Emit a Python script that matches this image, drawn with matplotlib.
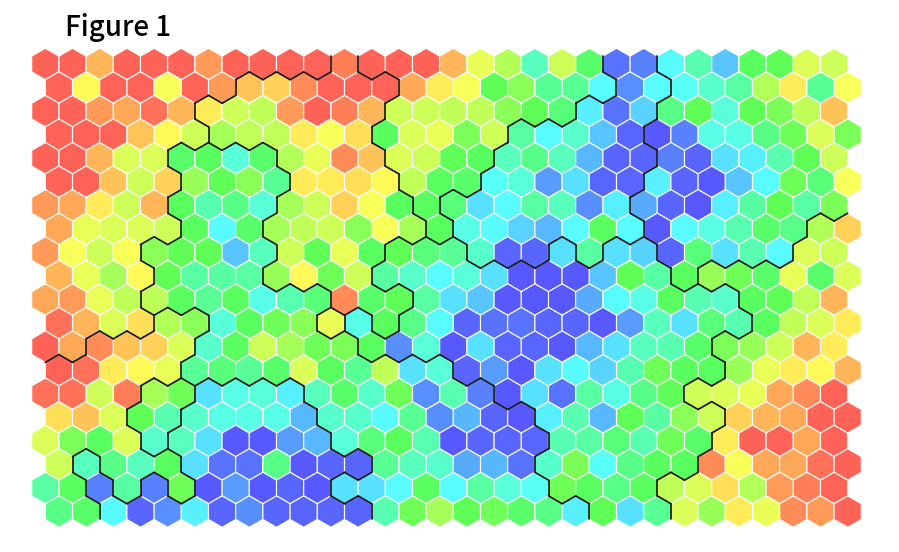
import colorsys
import numpy as np
import matplotlib
matplotlib.use("Agg")
import matplotlib.pyplot as plt
from matplotlib.collections import PolyCollection, LineCollection
from matplotlib.colors import ListedColormap, Normalize

title = "Figure 1"

# node values on a 0 (high / red) .. 24 (low / blue) scale
row00 = [0,0,3,0,0,0,2,0,0,0,0,1,0,0,0,3,6.5,8.5,15.5,7.5,12.5,23,22.5,18,15,20,12,11.5,7,7.5]
row01 = [0,5.5,0,0,6,0,2,3.5,4,1.5,0,0,0,2.5,5,6,11.5,10,14,14,18,22,18,17.5,16,14.5,8.5,5,14,6]
row02 = [0,0,2,2.5,0.5,3,5,7.5,8,2,0,1,3,7.5,7.5,8,8,10,11.5,13,18.5,23,19.5,13.5,11.5,16.5,11.5,10.5,8,3.5]
row03 = [0,0,0,3.5,5.5,7.5,9,8,8,5,6,4.5,12,7,6.5,10.5,7.5,14.5,18,16,20,23.5,24,22.5,17,17,13.5,11,7,10.5]
row04 = [0,0,3,7,7,12.5,12,16.5,12.5,8.5,6.5,1.5,3.5,7,7.5,11.5,12,15.5,13.5,15.5,20.5,23.5,23.5,22.5,23.5,19,18.5,15,11.5,7.5]
row05 = [0,0,3.5,7.5,4,9.5,11.5,10,14,5,5,4.5,5.5,8,12,12.5,17.5,16.5,21.5,19,23.5,23.5,18.5,23.5,24,20,18,11,13,6]
row06 = [2,2.5,5,7.5,3,12,15,13.5,16.5,9,7.5,4,6,12,12,13,19,18,14.5,15.5,22,18.5,21,23.5,24,18.5,14.5,11.5,14.5,10.5]
row07 = [2.5,6.5,7,7,7.5,12,18,12.5,9,8,7.5,10,6,9,12,17,18,19.5,20.5,18,12,18,24,18,17,15,12.5,13.5,8.5,4]
row08 = [2,6,7.5,6,10,11.5,11.5,20,15.5,7.5,11.5,6.5,12,11.5,13,14,16,23.5,23.5,19,14.5,19,19.5,23.5,13,19,15,18,7,7.5]
row09 = [3,6.5,9,5.5,11.5,14.5,14.5,14.5,9.5,5.5,11,7.5,14.5,16,18,16.5,19,24,24,24,20,11.5,14.5,12,9.5,11,12.5,6.5,12.5,7]
row10 = [2.5,2,6.5,8,8,12,14,12,17,15,13,1.5,12.5,11.5,14.5,19,20,24,24,24,21,18,17,12,15,16,12,11.5,8,3]
row11 = [0.5,3,7,4.5,8.5,10,16.5,12,11,10,6.5,17,12,13.5,18,23.5,23,23,23.5,23.5,24,21.5,15.5,19,13,15,12,8,7,5]
row12 = [0,2.5,1.5,3.5,4,7,16,12,7.5,9,11,10.5,12,22,16.5,24,19,23.5,23.5,24,20.5,19,15.5,15,12.5,10.5,9.5,7.5,3,5]
row13 = [0,0.5,5,5.5,6.5,14,13,14,12.5,7,12,14,8,19,16.5,23.5,21.5,24,19,18,19.5,15,11,12,12,9.5,6.5,5,5.5,3]
row14 = [0.5,0.5,7.5,1,9,11,19,17,16.5,18.5,15.5,12.5,16,11,22,15,22.5,24,19,23,14.5,17,13.5,11.5,7.5,7,6.5,2.5,1.5,0]
row15 = [4.5,3.5,7,11.5,15,16,17,17,17,20.5,16,16,18,14,22,20.5,23.5,24,18.5,15,20.5,11.5,14.5,10,7.5,4,3,2.5,0,0]
row16 = [7,10.5,12,7,16,15.5,19,24,24,21.5,20.5,16.5,13,12,15,24,23.5,23.5,23.5,15,14.5,13,15,11,12.5,5,0,0,2.5,0]
row17 = [7.5,15.5,13.5,15.5,12,19,23,23,13.5,24,23.5,23.5,14,15.5,16,21,20.5,23,16,10.5,17.5,13.5,12,12,1.5,6,2.5,2.5,0.5,0]
row18 = [14.5,12,22.5,14.5,22.5,11,24,21.5,24,23.5,24,19,19,18,12,18,14.5,16.5,17.5,11,12,13.5,12,8,7,4.5,8.5,2,1,0]
row19 = [13.5,12.5,18,23.5,22,18.5,23.5,22,23.5,23.5,23.5,23.5,15,11,9,11.5,11,12.5,13.5,18.5,11.5,19,14,7,9.5,5,6.5,1.5,2,0]
values = np.array([row00,row01,row02,row03,row04,row05,row06,row07,row08,row09,
                   row10,row11,row12,row13,row14,row15,row16,row17,row18,row19], dtype=float)

# cluster membership, run-length coded per row
cluster_runs = [
    "A11 B1 C9 D2 F7", "A7 B6 C8 D2 F7", "A6 B7 C7 D3 F7", "A6 B6 C5 D5 F8",
    "A5 H4 B4 C4 D6 F7", "A5 H4 B4 C3 D6 F8", "A5 H4 B5 C1 D7 F8", "A5 H3 B6 C1 D7 F6 E2",
    "A4 H5 B4 P3 D3 P1 D1 P2 F5 E2", "A4 H4 B4 P11 F1 E6", "A4 H7 B3 P12 E4",
    "A4 I2 H4 S1 P1 B1 P13 E4", "A2 I4 H6 P13 E5", "I5 H10 P10 E5", "I4 J2 M4 H7 P7 E6",
    "I3 J2 M5 H8 P7 E5", "I4 J1 M6 H8 P6 E5", "I1 M1 I3 M7 H6 P6 E6",
    "I2 M1 I1 M1 I1 M5 H8 P4 E7", "I2 M10 H8 P3 E7",
]
labels = [[t[0] for t in runs.split() for _ in range(int(t[1:]))] for runs in cluster_runs]

n_rows, n_cols = values.shape
R = 1 / np.sqrt(3)
DY = np.sqrt(3) / 2
PX = 27.2  # pixels per column
X0, Y0 = 45.3, 64.0  # pixel position of the first node

def center(r, c):
    return c + 0.5 * (r % 2), -r * DY

def vertex(r, c, deg):
    x, y = center(r, c)
    a = np.deg2rad(deg)
    return x + R * np.cos(a), y + R * np.sin(a)

fig = plt.figure(figsize=(8.99, 5.52), dpi=100, facecolor="white")
ax = fig.add_axes([0, 0, 1, 1])
ax.set_xlim(-X0 / PX, (899 - X0) / PX)
ax.set_ylim(-(552 - Y0) / PX, Y0 / PX)
ax.axis("off")

cmap = ListedColormap([colorsys.hsv_to_rgb((4 + 236 * i / 480) / 360, 0.655, 1.0) for i in range(481)])
polys = [[vertex(r, c, 90 + 60 * k) for k in range(6)] for r in range(n_rows) for c in range(n_cols)]
hexes = PolyCollection(polys, array=values.ravel(), cmap=cmap, norm=Normalize(0, 24),
                       edgecolors="white", linewidths=0.8)
ax.add_collection(hexes)

segments = []
for r in range(n_rows):
    for c in range(n_cols):
        if c + 1 < n_cols and labels[r][c] != labels[r][c + 1]:
            segments.append([vertex(r, c, 30), vertex(r, c, -30)])
        if r + 1 < n_rows:
            sw, se = (c - 1, c) if r % 2 == 0 else (c, c + 1)
            if sw >= 0 and labels[r][c] != labels[r + 1][sw]:
                segments.append([vertex(r, c, -90), vertex(r, c, -150)])
            if se < n_cols and labels[r][c] != labels[r + 1][se]:
                segments.append([vertex(r, c, -30), vertex(r, c, -90)])
ax.add_collection(LineCollection(segments, colors="#111111", linewidths=1.2, capstyle="round"))

fig.text(65 / 899, 1 - 35.5 / 552, title, family=["Noto Sans CJK JP", "DejaVu Sans"], fontsize=20,
         fontweight="medium", color="black", ha="left", va="baseline")

fig.savefig("out.png", dpi=100, facecolor="white")
